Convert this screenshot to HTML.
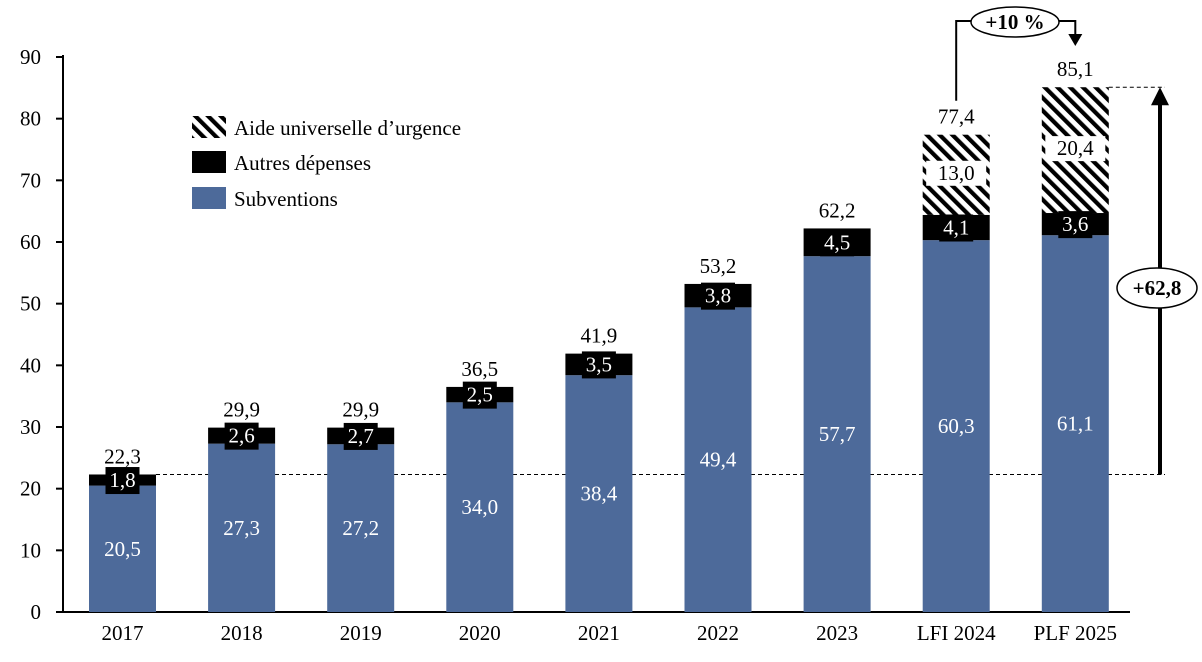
<!DOCTYPE html>
<html><head><meta charset="utf-8"><style>
body{margin:0;background:#fff}
svg{display:block;font-family:"Liberation Serif",serif}
</style></head><body>
<svg id="c" width="1202" height="662">
<defs>
<pattern id="hatch" patternUnits="userSpaceOnUse" width="9" height="9" patternTransform="rotate(-45)">
<rect width="9" height="9" fill="#fff"/><rect width="4.2" height="9" fill="#000"/>
</pattern>
</defs>
<g id="legend">
<rect x="192" y="116" width="34" height="22" fill="url(#hatch)"/>
<text x="234" y="135" font-size="21">Aide universelle d’urgence</text>
<rect x="192" y="151" width="34" height="22" fill="#000"/>
<text x="234" y="170" font-size="21">Autres dépenses</text>
<rect x="192" y="187" width="34" height="22" fill="#4d6a9a"/>
<text x="234" y="206" font-size="21">Subventions</text>
</g>
</svg>
<script>
const categories=["2017","2018","2019","2020","2021","2022","2023","LFI 2024","PLF 2025"];
const subventions=[20.5,27.3,27.2,34.0,38.4,49.4,57.7,60.3,61.1];
const autres=[1.8,2.6,2.7,2.5,3.5,3.8,4.5,4.1,3.6];
const aide=[0,0,0,0,0,0,0,13.0,20.4];
const totals=[22.3,29.9,29.9,36.5,41.9,53.2,62.2,77.4,85.1];
const yTicks=[0,10,20,30,40,50,60,70,80,90];
const NS="http://www.w3.org/2000/svg";
const svg=document.getElementById('c');
const y=v=>612-v*(555/90);
const xc=i=>122.5+i*119.1;
const bw=67;
const fmt=v=>v.toFixed(1).replace('.',',');
function el(t,a,p){const e=document.createElementNS(NS,t);for(const k in a)e.setAttribute(k,a[k]);(p||svg).appendChild(e);return e;}
function txt(x,yy,s,a){const e=el('text',Object.assign({x:x,y:yy,'text-anchor':'middle','font-size':21},a||{}));e.textContent=s;return e;}
const ax=el('line',{x1:63,y1:612,x2:1130,y2:612,stroke:'#000','stroke-width':2});


const ay=el('line',{x1:63,y1:55,x2:63,y2:613,stroke:'#000','stroke-width':2});


yTicks.forEach(t=>{
 const l=el('line',{x1:56,y1:y(t),x2:63,y2:y(t),stroke:'#000','stroke-width':2});
 
 
 const tx=txt(41,y(t)+7,String(t),{'text-anchor':'end'});
 
 
});
const d1=el('line',{x1:xc(0)+bw/2,y1:y(totals[0]),x2:1165,y2:y(totals[0]),stroke:'#000','stroke-width':1,'stroke-dasharray':'4,3'});


const d2=el('line',{x1:xc(8)+bw/2,y1:y(totals[8]),x2:1165,y2:y(totals[8]),stroke:'#000','stroke-width':1,'stroke-dasharray':'4,3'});


categories.forEach((c,i)=>{
 const x0=xc(i)-bw/2;
 const s=el('rect',{x:x0,y:y(subventions[i]),width:bw,height:y(0)-y(subventions[i]),fill:'#4d6a9a'});
 
 
 const top1=subventions[i]+autres[i];
 const a=el('rect',{x:x0,y:y(top1),width:bw,height:y(subventions[i])-y(top1),fill:'#000'});
 
 
 if(aide[i]>0){
  const top2=top1+aide[i];
  const h=el('rect',{x:x0,y:y(top2),width:bw,height:y(top1)-y(top2),fill:'url(#hatch)'});
  
  
  const my=(y(top1)+y(top2))/2-2;
  el('rect',{x:xc(i)-30,y:my-12,width:60,height:25,fill:'#fff'});
  const lt=txt(xc(i),my+7,fmt(aide[i]));
  
  
 }
 const st=txt(xc(i),(y(0)+y(subventions[i]))/2+7,fmt(subventions[i]),{fill:'#fff'});
 
 
 const am=(y(subventions[i])+y(top1))/2;
 el('rect',{x:xc(i)-17,y:am-13,width:34,height:27,fill:'#000'});
 const at=txt(xc(i),am+7,fmt(autres[i]),{fill:'#fff'});
 
 
 const tt=txt(xc(i),y(totals[i])-11,fmt(totals[i]));
 
 
 const ct=txt(xc(i),640,c);
 
 
});
const p1=el('polyline',{points:`${xc(7)},${y(totals[7])-34} ${xc(7)},21 ${xc(8)},21 ${xc(8)},36`,fill:'none',stroke:'#000','stroke-width':2});


el('polygon',{points:`${xc(8)-7},34 ${xc(8)+7},34 ${xc(8)},46`,fill:'#000'});
const e1=el('ellipse',{cx:1015,cy:22,rx:44,ry:15,fill:'#fff',stroke:'#000','stroke-width':1.5});


txt(1015,29,'+10 %',{'font-weight':'bold'});
const ar=el('line',{x1:1160,y1:y(totals[0]),x2:1160,y2:y(totals[8])+16,stroke:'#000','stroke-width':4});


el('polygon',{points:`1151,${y(totals[8])+18} 1169,${y(totals[8])+18} 1160,${y(totals[8])}`,fill:'#000'});
const e2=el('ellipse',{cx:1157,cy:288,rx:40,ry:20,fill:'#fff',stroke:'#000','stroke-width':1.5});


txt(1157,295,'+62,8',{'font-weight':'bold'});
</script>
</body></html>
